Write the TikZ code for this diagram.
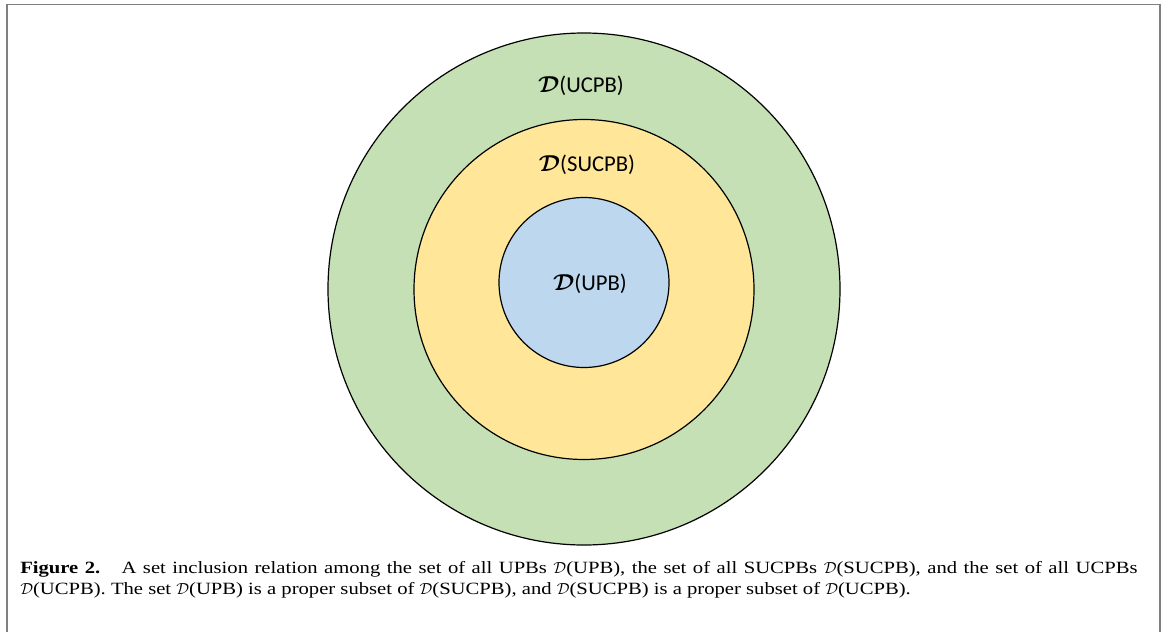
\documentclass[tikz,border=0pt]{standalone}
\usepackage{amsmath}
\usepackage{fontspec}
\setmainfont{Liberation Serif}
\newfontfamily\labelfont{Carlito}
\newfontfamily\capfont[FakeStretch=1.2]{Liberation Serif}
\usetikzlibrary{positioning}
\definecolor{ucpbgreen}{HTML}{C5E0B4}
\definecolor{sucpbyellow}{HTML}{FFE699}
\definecolor{upbblue}{HTML}{BDD7EE}
\definecolor{framegray}{HTML}{808080}
\newcommand{\setD}{\boldsymbol{\mathcal{D}}}

\begin{document}
\begin{tikzpicture}[x=0.75pt,y=-0.75pt,
        setcircle/.style={draw=black,line width=0.9pt},
        setlabel/.style={font=\labelfont\fontsize{17}{20}\selectfont,inner sep=0pt},
        capline/.style={font=\capfont\fontsize{12.9}{16}\selectfont,inner sep=0pt,anchor=base west}]
        \useasboundingbox (0,0) rectangle (1165,632);
        \fill[white] (0,0) rectangle (1165,632);
        % frame round the figure
        \draw[framegray,line width=0.75pt] (6,4.5) -- (1161,4.5);
        \draw[framegray,line width=1.5pt] (6.8,4) -- (6.8,632);
        \draw[framegray,line width=2pt] (1160,4) -- (1160,632);
        % nested sets
        \draw[setcircle,fill=ucpbgreen] (584,289) circle (256);
        \draw[setcircle,fill=sucpbyellow] (584,289.5) circle (170);
        \draw[setcircle,fill=upbblue] (584,282.5) circle (85);
        \node[setlabel] (ucpb) at (581,86) {$\setD$(UCPB)};
        \node[setlabel] (sucpb) at (587,165) {$\setD$(SUCPB)};
        \node[setlabel] (upb) at (590,284) {$\setD$(UPB)};
        % caption
        \node[capline] (capone) at (20,573) {\makebox[838pt][s]{\textbf{Figure 2.}\hspace{0.6em} A set inclusion relation among the set of all UPBs $\mathcal{D}$(UPB), the set of all SUCPBs $\mathcal{D}$(SUCPB), and the set of all UCPBs}};
        \node[capline] (captwo) at (20,594.5) {$\mathcal{D}$(UCPB). The set $\mathcal{D}$(UPB) is a proper subset of $\mathcal{D}$(SUCPB), and $\mathcal{D}$(SUCPB) is a proper subset of $\mathcal{D}$(UCPB).};
    \end{tikzpicture}
\end{document}
